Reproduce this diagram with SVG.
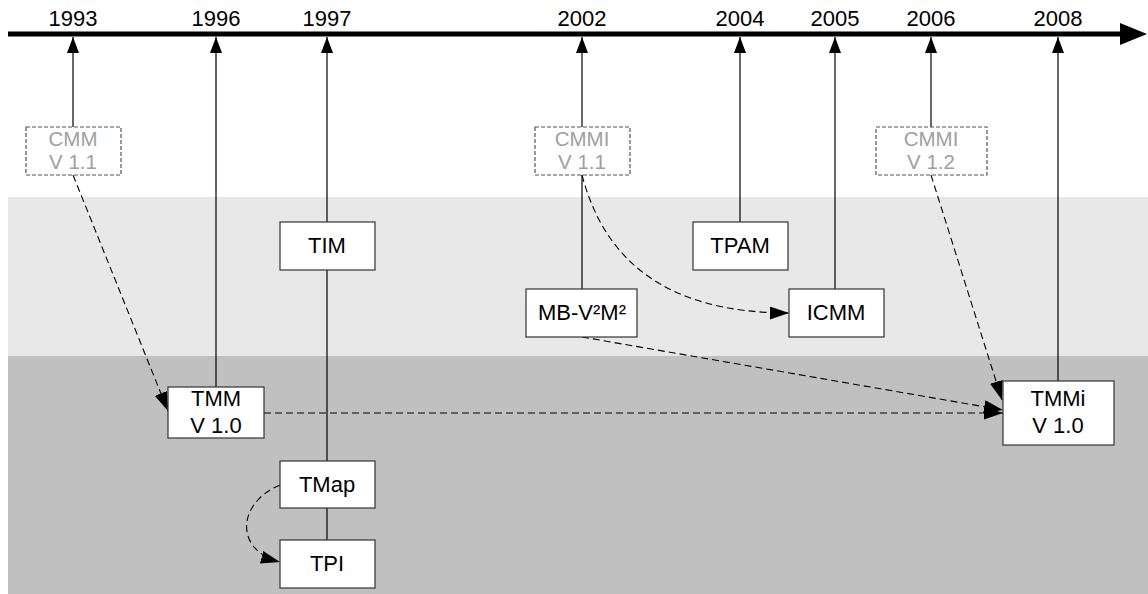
<svg xmlns="http://www.w3.org/2000/svg" width="1148" height="594" viewBox="0 0 1148 594">
<style>
  .yr{font-family:"Liberation Sans",Arial,sans-serif;font-size:22px;fill:#000;text-anchor:middle}
  .nt{font-family:"Liberation Sans",Arial,sans-serif;font-size:22px;fill:#000;text-anchor:middle}
  .gt{font-family:"Liberation Sans",Arial,sans-serif;font-size:20.5px;fill:#a0a0a0;text-anchor:middle}
  .box{fill:#fff;stroke:#333;stroke-width:1.2}
  .dbox{fill:#fff;stroke:#555;stroke-width:1.2;stroke-dasharray:4,2}
  .vl{fill:none;stroke:#000;stroke-width:1.2}
  .dl{fill:none;stroke:#000;stroke-width:1.1;stroke-dasharray:7,4}
</style>
<defs>
  <marker id="up" markerUnits="userSpaceOnUse" markerWidth="16" markerHeight="12" refX="16" refY="6" orient="auto">
    <path d="M0,0 L16,6 L0,12 z" fill="#000"/>
  </marker>
  <marker id="ah" markerUnits="userSpaceOnUse" markerWidth="19" markerHeight="13" refX="19" refY="6.5" orient="auto">
    <path d="M0,0 L19,6.5 L0,13 z" fill="#000"/>
  </marker>
  <marker id="big" markerUnits="userSpaceOnUse" markerWidth="27" markerHeight="22" refX="2" refY="11" orient="auto">
    <path d="M0,0 L27,11 L0,22 z" fill="#000"/>
  </marker>
</defs>
<rect x="0" y="0" width="1148" height="594" fill="#fff"/>
<g id="bands">
  <rect x="8" y="197" width="1140" height="159" fill="#e8e8e8"/>
  <rect x="8" y="356" width="1140" height="238" fill="#c0c0c0"/>
</g>
<g id="timeline">
  <line x1="8" y1="34" x2="1122" y2="34" stroke="#000" stroke-width="5" marker-end="url(#big)"/>
  <text class="yr" x="73" y="26">1993</text>
  <text class="yr" x="216" y="26">1996</text>
  <text class="yr" x="327" y="26">1997</text>
  <text class="yr" x="582" y="26">2002</text>
  <text class="yr" x="740" y="26">2004</text>
  <text class="yr" x="835" y="26">2005</text>
  <text class="yr" x="931" y="26">2006</text>
  <text class="yr" x="1058" y="26">2008</text>
</g>
<g id="connectors">
  <path class="vl" d="M73,127 L73,37" marker-end="url(#up)"/>
  <path class="vl" d="M216,387 L216,37" marker-end="url(#up)"/>
  <path class="vl" d="M327,222 L327,37" marker-end="url(#up)"/>
  <path class="vl" d="M327,270 L327,461"/>
  <path class="vl" d="M327,508 L327,540"/>
  <path class="vl" d="M582,127 L582,37" marker-end="url(#up)"/>
  <path class="vl" d="M582,175 L582,289"/>
  <path class="vl" d="M740,222 L740,37" marker-end="url(#up)"/>
  <path class="vl" d="M835,289 L835,37" marker-end="url(#up)"/>
  <path class="vl" d="M931,127 L931,37" marker-end="url(#up)"/>
  <path class="vl" d="M1058,381 L1058,37" marker-end="url(#up)"/>
  <path class="dl" d="M73,175 L168,411" marker-end="url(#ah)"/>
  <path class="dl" d="M582,175 C603,255 660,313 789,313" marker-end="url(#ah)"/>
  <path class="dl" d="M582,337 L1003,410" marker-end="url(#ah)"/>
  <path class="dl" d="M264,413 L1003,413" marker-end="url(#ah)"/>
  <path class="dl" d="M931,175 L1002,400" marker-end="url(#ah)"/>
  <path class="dl" d="M280,485 C238,502 233,550 280,562" marker-end="url(#ah)"/>
</g>
<g id="cmm11">
  <rect class="dbox" x="26" y="127" width="95" height="48"/>
  <text class="gt" x="73" y="146">CMM</text>
  <text class="gt" x="73" y="169">V 1.1</text>
</g>
<g id="cmmi11">
  <rect class="dbox" x="535" y="127" width="95" height="48"/>
  <text class="gt" x="582" y="146">CMMI</text>
  <text class="gt" x="582" y="169">V 1.1</text>
</g>
<g id="cmmi12">
  <rect class="dbox" x="876" y="127" width="111" height="48"/>
  <text class="gt" x="931" y="146">CMMI</text>
  <text class="gt" x="931" y="169">V 1.2</text>
</g>
<g id="tim">
  <rect class="box" x="280" y="222" width="95" height="48"/>
  <text class="nt" x="327" y="253">TIM</text>
</g>
<g id="tpam">
  <rect class="box" x="693" y="222" width="95" height="48"/>
  <text class="nt" x="740" y="253">TPAM</text>
</g>
<g id="mbv2m2">
  <rect class="box" x="526" y="289" width="111" height="48"/>
  <text class="nt" x="582" y="320">MB-V²M²</text>
</g>
<g id="icmm">
  <rect class="box" x="789" y="289" width="95" height="48"/>
  <text class="nt" x="836" y="320">ICMM</text>
</g>
<g id="tmm10">
  <rect class="box" x="168" y="387" width="96" height="51"/>
  <text class="nt" x="216" y="406">TMM</text>
  <text class="nt" x="216" y="433">V 1.0</text>
</g>
<g id="tmmi10">
  <rect class="box" x="1003" y="381" width="111" height="64"/>
  <text class="nt" x="1058" y="406">TMMi</text>
  <text class="nt" x="1058" y="433">V 1.0</text>
</g>
<g id="tmap">
  <rect class="box" x="280" y="461" width="95" height="47"/>
  <text class="nt" x="327" y="492">TMap</text>
</g>
<g id="tpi">
  <rect class="box" x="280" y="540" width="95" height="48"/>
  <text class="nt" x="327" y="571">TPI</text>
</g>
</svg>
